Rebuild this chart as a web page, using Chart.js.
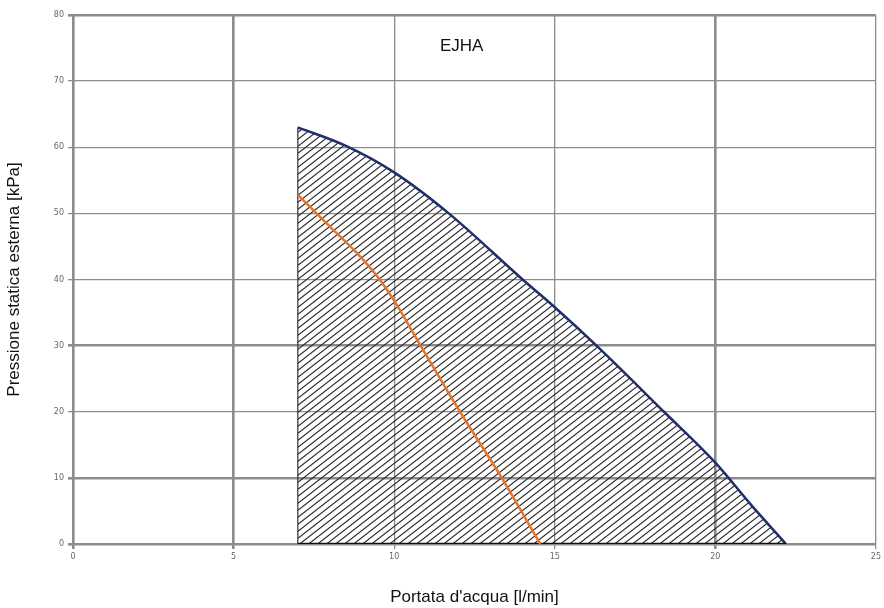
<!DOCTYPE html>
<html>
<head>
<meta charset="utf-8">
<script src="https://cdn.jsdelivr.net/npm/chart.js@4"></script>
<style>
  html, body { margin: 0; padding: 0; background: #fff; }
  #wrap { width: 884px; height: 608px; }
</style>
</head>
<body>
<div id="wrap"><canvas id="chart" width="884" height="608"></canvas></div>
<script>
// Data
const chartTitle = 'EJHA';
const xLabel = "Portata d'acqua [l/min]";
const yLabel = 'Pressione statica esterna [kPa]';

// max pump curve (blue), x = l/min, y = kPa
const maxFlow = [7, 8.5, 10, 11.7, 14, 15, 16.3, 18.4, 20, 21.1, 22.2];
const maxPressure = [63, 60.2, 56.2, 50, 40, 35.8, 30, 20, 12.3, 6, 0];

// nominal curve (orange)
const nomFlow = [7, 8, 8.8, 9.5, 10, 10.8, 12.05, 13.35, 14.55];
const nomPressure = [52.8, 48, 44.2, 40.3, 36.8, 30.2, 20, 10, 0];

// left edge and bottom edge of the hatched area
const edgeFlow = [7, 7];
const edgePressure = [0, 63];
const baseFlow = [7, 22.2];
const basePressure = [0, 0];

const xTicks = [0, 5, 10, 15, 20, 25];
const yTicks = [0, 10, 20, 30, 40, 50, 60, 70, 80];
const thickX = [0, 5, 20];
const thickY = [0, 10, 30, 80];

function toPoints(xs, ys) {
  return xs.map((x, i) => ({ x: x, y: ys[i] }));
}

// diagonal hatch pattern
function makeHatch() {
  const w = 9, h = 7;
  const c = document.createElement('canvas');
  c.width = w; c.height = h;
  const g = c.getContext('2d');
  g.strokeStyle = '#2a2a2a';
  g.lineWidth = 1.1;
  g.beginPath();
  g.moveTo(-1, h + h / w);
  g.lineTo(w + 1, -h / w);
  g.moveTo(-w - 1, h + h / w);
  g.lineTo(1, -h / w);
  g.moveTo(w - 1, h + h / w);
  g.lineTo(2 * w + 1, -h / w);
  g.stroke();
  return g.createPattern(c, 'repeat');
}

// title inside the plot area
const titlePlugin = {
  id: 'innerTitle',
  afterDraw(chart) {
    const ctx = chart.ctx;
    const x = chart.scales.x.getPixelForValue(12.1);
    const y = chart.scales.y.getPixelForValue(75.3);
    ctx.save();
    ctx.font = '17px "Liberation Sans", Arial, sans-serif';
    ctx.fillStyle = '#111';
    ctx.textAlign = 'center';
    ctx.textBaseline = 'middle';
    ctx.fillText(chartTitle, x, y);
    ctx.restore();
  }
};

const ctx = document.getElementById('chart').getContext('2d');
new Chart(ctx, {
  type: 'scatter',
  data: {
    datasets: [
      {
        label: 'max',
        data: toPoints(maxFlow, maxPressure),
        showLine: true,
        borderColor: '#1f2f6b',
        borderWidth: 2.5,
        pointRadius: 0,
        cubicInterpolationMode: 'monotone',
        fill: 'origin',
        backgroundColor: makeHatch(),
        order: 1
      },
      {
        label: 'nominal',
        data: toPoints(nomFlow, nomPressure),
        showLine: true,
        borderColor: '#e8742c',
        borderWidth: 2.5,
        pointRadius: 0,
        cubicInterpolationMode: 'monotone',
        fill: false,
        order: 0
      },
      {
        label: 'edge',
        data: toPoints(edgeFlow, edgePressure),
        showLine: true,
        borderColor: '#333',
        borderWidth: 1.2,
        pointRadius: 0,
        fill: false,
        order: 2
      },
      {
        label: 'base',
        data: toPoints(baseFlow, basePressure),
        showLine: true,
        borderColor: '#111',
        borderWidth: 2.5,
        pointRadius: 0,
        fill: false,
        order: 0
      }
    ]
  },
  options: {
    responsive: false,
    animation: false,
    layout: { padding: { top: 15, right: 6, left: 0, bottom: 0 } },
    plugins: {
      legend: { display: false },
      tooltip: { enabled: false }
    },
    scales: {
      x: {
        type: 'linear',
        min: 0,
        max: 25,
        afterBuildTicks: s => { s.ticks = xTicks.map(v => ({ value: v })); },
        afterFit: s => { s.height = 64; },
        border: { display: false },
        grid: {
          color: '#8c8c8c',
          lineWidth: c => thickX.includes(c.tick.value) ? 2.6 : 1.3,
          tickLength: 5
        },
        ticks: {
          color: '#667',
          font: { family: 'DejaVu Sans', size: 8 },
          padding: 3
        },
        title: {
          display: true,
          text: xLabel,
          color: '#111',
          font: { family: '"Liberation Sans", Arial', size: 17 },
          padding: { top: 26, bottom: 0 }
        }
      },
      y: {
        type: 'linear',
        min: 0,
        max: 80,
        afterBuildTicks: s => { s.ticks = yTicks.map(v => ({ value: v })); },
        afterFit: s => { s.width = 73; },
        border: { display: false },
        grid: {
          color: '#8c8c8c',
          lineWidth: c => thickY.includes(c.tick.value) ? 2.6 : 1.3,
          tickLength: 5
        },
        ticks: {
          color: '#667',
          font: { family: 'DejaVu Sans', size: 8 },
          padding: 4
        },
        title: {
          display: true,
          text: yLabel,
          color: '#111',
          font: { family: '"Liberation Sans", Arial', size: 17 },
          padding: { top: 4, bottom: 0 }
        }
      }
    }
  },
  plugins: [titlePlugin]
});
</script>
</body>
</html>
